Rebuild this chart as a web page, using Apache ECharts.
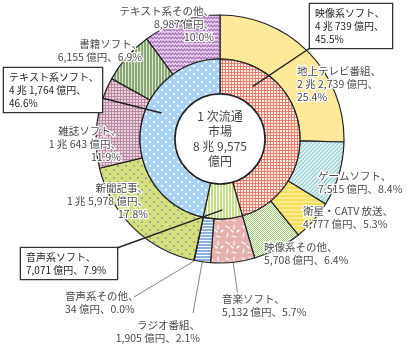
<!DOCTYPE html>
<html>
<head>
<meta charset="utf-8">
<script src="https://cdn.jsdelivr.net/npm/echarts@6/dist/echarts.min.js"></script>
<style>
html, body { margin: 0; padding: 0; background: #fff; }
#chart { width: 408px; height: 346px; }
</style>
</head>
<body>
<div id="chart"></div>
<script>
// 1次流通市場の構成(単位:億円)
const TOTAL = 89575;
const groupNames = ['映像系ソフト', '音声系ソフト', 'テキスト系ソフト'];
const groupValues = [40739, 7071, 41764];
const itemNames = ['地上テレビ番組', 'ゲームソフト', '衛星・CATV 放送', '映像系その他',
  '音楽ソフト', 'ラジオ番組', '音声系その他',
  '新聞記事', '雑誌ソフト', '書籍ソフト', 'テキスト系その他'];
const itemValues = [22739, 7515, 4777, 5708, 5132, 1905, 34, 15978, 10643, 6155, 8987];

const CX = 220, CY = 139;
const FONT = '"Noto Sans CJK JP", "Noto Sans", sans-serif';

// 億円 -> "X 兆 Y 億円"
function okuParts(v) {
  const cho = Math.floor(v / 10000);
  const rest = (v % 10000).toLocaleString('en-US');
  return [(cho ? cho + ' 兆 ' : '') + rest, '億円'];
}
function oku(v) { return okuParts(v).join(' '); }
function pct(v) { return (v / TOTAL * 100).toFixed(1) + '%'; }

// label placement (x/y = top anchor); boxed labels carry their own width
const LBL = {
  'テキスト系その他': { x: 214, y: 5, align: 'right', rows: 3 },
  '書籍ソフト': { x: 142, y: 38, align: 'right', rows: 2 },
  '雑誌ソフト': { x: 121, y: 125, align: 'right', rows: 3 },
  '新聞記事': { x: 148, y: 182, align: 'right', rows: 3 },
  '地上テレビ番組': { x: 297, y: 65, align: 'left', rows: 3 },
  'ゲームソフト': { x: 318, y: 170, align: 'left', rows: 2 },
  '衛星・CATV 放送': { x: 303, y: 205, align: 'left', rows: 2 },
  '映像系その他': { x: 264, y: 241, align: 'left', rows: 2 },
  '音楽ソフト': { x: 222, y: 293, align: 'left', rows: 2, from: [238, 296], r: 115 },
  'ラジオ番組': { x: 200, y: 319, align: 'right', rows: 2, from: [193, 313], r: 123 },
  '音声系その他': { x: 65, y: 290, align: 'left', rows: 2, from: [134, 297], r: 125 },
  '映像系ソフト': { x: 310, y: 4, align: 'left', rows: 3, w: 72, polar: [32, 62], corner: 'bl' },
  'テキスト系ソフト': { x: 4, y: 68, align: 'left', rows: 3, w: 88, polar: [294, 64], corner: 'r', ly: 98 },
  '音声系ソフト': { x: 21, y: 248, align: 'left', rows: 2, w: 86, polar: [178, 71], corner: 'tr' }
};
const BOX_PAD = [3, 5, 2, 5];
const BOX_LH = 13;

function labelText(name, v) {
  const c = LBL[name];
  return c.rows === 3
    ? name + '、\n' + oku(v) + '、\n' + pct(v)
    : name + '、\n' + oku(v) + '、' + pct(v);
}

function polarPt(deg, r) {
  const a = deg * Math.PI / 180;
  return [CX + r * Math.sin(a), CY - r * Math.cos(a)];
}

// mid angle of each slice, clockwise from 12 o'clock
function midAngles(values) {
  const sum = values.reduce((a, b) => a + b, 0);
  let acc = 0;
  return values.map(v => { const m = (acc + v / 2) / sum * 360; acc += v; return m; });
}
const itemMid = midAngles(itemValues);

// ---- fill patterns ----
function tile(w, h, draw) {
  const c = document.createElement('canvas');
  c.width = w; c.height = h;
  const g = c.getContext('2d');
  draw(g, w, h);
  return { image: c, repeat: 'repeat' };
}
function gridPat(bg, line, step) {
  return tile(step, step, g => {
    g.fillStyle = bg; g.fillRect(0, 0, step, step);
    g.fillStyle = line; g.fillRect(0, 0, step, 1); g.fillRect(0, 0, 1, step);
  });
}
function dotPat(bg, dot, step, r) {
  return tile(step, step, g => {
    g.fillStyle = bg; g.fillRect(0, 0, step, step);
    g.fillStyle = dot;
    [[step / 4, step / 4], [step * 3 / 4, step * 3 / 4]].forEach(p => {
      g.beginPath(); g.arc(p[0], p[1], r, 0, Math.PI * 2); g.fill();
    });
  });
}
function zigPat(bg, line, lw) {
  return tile(6, 4, g => {
    g.fillStyle = bg; g.fillRect(0, 0, 6, 4);
    g.strokeStyle = line; g.lineWidth = lw;
    g.beginPath(); g.moveTo(0, 3); g.lineTo(1.5, 1); g.lineTo(3, 3); g.lineTo(4.5, 1); g.lineTo(6, 3); g.stroke();
  });
}
function stripeV(a, b, wa, wb) {
  return tile(wa + wb, 2, g => {
    g.fillStyle = b; g.fillRect(0, 0, wa + wb, 2);
    g.fillStyle = a; g.fillRect(0, 0, wa, 2);
  });
}
function stripeH(a, b, ha, hb) {
  return tile(2, ha + hb, g => {
    g.fillStyle = b; g.fillRect(0, 0, 2, ha + hb);
    g.fillStyle = a; g.fillRect(0, 0, 2, ha);
  });
}
const diagPat = tile(4, 4, g => {
  g.fillStyle = '#a0d3d8'; g.fillRect(0, 0, 4, 4);
  g.strokeStyle = '#ffffff'; g.lineWidth = 1.1;
  g.beginPath();
  g.moveTo(-1, 5); g.lineTo(5, -1);
  g.moveTo(-1, 1); g.lineTo(1, -1);
  g.moveTo(3, 5); g.lineTo(5, 3);
  g.stroke();
});
const checkPat = tile(2, 2, g => {
  g.fillStyle = '#ffffff'; g.fillRect(0, 0, 2, 2);
  g.fillStyle = '#9fce77'; g.fillRect(0, 0, 1, 1); g.fillRect(1, 1, 1, 1);
});
const dashPat = tile(16, 16, g => {
  g.fillStyle = '#e5b2ad'; g.fillRect(0, 0, 16, 16);
  g.strokeStyle = '#ffffff'; g.lineWidth = 1.2; g.lineCap = 'round';
  [[2, 2, 5, 4], [10, 1, 10, 5], [13, 8, 15, 6], [4, 9, 3, 13], [8, 12, 12, 13], [7, 6, 9, 8]].forEach(s => {
    g.beginPath(); g.moveTo(s[0], s[1]); g.lineTo(s[2], s[3]); g.stroke();
  });
});

const groupFill = [
  gridPat('#fdeee9', '#e47d69', 3),
  stripeV('#ffffff', '#c3de86', 1, 2),
  dotPat('#a9d3f4', '#ffffff', 8, 1.1)
];
const itemFill = [
  '#fde99a',
  diagPat,
  zigPat('#f3de5c', '#fff6b8', 1),
  checkPat,
  dashPat,
  stripeH('#ffffff', '#8cb1e2', 1, 2),
  '#dddddd',
  dotPat('#d3e07c', '#9e9e9e', 8, 1.1),
  gridPat('#ecd2dd', '#b98aa3', 3),
  stripeV('#89a876', '#d9e3d0', 2, 1),
  zigPat('#ead5ef', '#a66fb8', 1.2)
];

function outerLayout(params) {
  const name = itemNames[params.dataIndex];
  const c = LBL[name];
  const out = { x: c.x, y: c.y, align: c.align, verticalAlign: 'top' };
  if (c.from) {
    const a = polarPt(itemMid[params.dataIndex], c.r);
    const e = c.from;
    out.labelLinePoints = [a, [(a[0] + e[0]) / 2, (a[1] + e[1]) / 2], e];
  }
  return out;
}
function innerLayout(params) {
  const c = LBL[groupNames[params.dataIndex]];
  return { x: c.x, y: c.y, align: c.align, verticalAlign: 'top' };
}

// leader lines from the boxed group labels into the inner ring
function boxLeaders() {
  return groupNames.map(n => {
    const c = LBL[n];
    const bw = c.w + BOX_PAD[1] + BOX_PAD[3];
    const bh = c.rows * BOX_LH + BOX_PAD[0] + BOX_PAD[2];
    let e;
    if (c.corner === 'bl') e = [c.x, c.y + bh];
    else if (c.corner === 'tr') e = [c.x + bw, c.y];
    else e = [c.x + bw, c.ly];
    const a = polarPt(c.polar[0], c.polar[1]);
    return {
      type: 'polyline', silent: true, z: 100,
      shape: { points: [a, e] },
      style: { stroke: '#222', lineWidth: 1.4, fill: null }
    };
  });
}

const outerData = itemNames.map((n, i) => ({
  name: n, value: itemValues[i],
  itemStyle: { color: itemFill[i] },
  labelLine: { show: !!LBL[n].from }
}));
const innerData = groupNames.map((n, i) => ({
  name: n, value: groupValues[i],
  itemStyle: { color: groupFill[i] },
  label: { width: LBL[n].w, overflow: 'none' }
}));

const chart = echarts.init(document.getElementById('chart'), null, { renderer: 'canvas' });
chart.setOption({
  animation: false,
  backgroundColor: '#ffffff',
  graphic: boxLeaders(),
  series: [
    {
      type: 'pie',
      center: [CX, CY],
      radius: [80, 124],
      startAngle: 90,
      clockwise: true,
      avoidLabelOverlap: false,
      emphasis: { disabled: true },
      silent: true,
      itemStyle: { borderColor: '#222', borderWidth: 1.2 },
      label: {
        show: true, position: 'outside',
        formatter: p => labelText(p.name, p.value),
        fontFamily: FONT, fontSize: 10.5, lineHeight: 13,
        color: '#4a4a4a', textBorderColor: '#ffffff', textBorderWidth: 2.5
      },
      labelLine: { show: true, length: 5, length2: 5, lineStyle: { color: '#666', width: 0.8 } },
      labelLayout: outerLayout,
      data: outerData
    },
    {
      type: 'pie',
      center: [CX, CY],
      radius: [45, 80],
      startAngle: 90,
      clockwise: true,
      avoidLabelOverlap: false,
      emphasis: { disabled: true },
      silent: true,
      z: 3,
      itemStyle: { borderColor: '#222', borderWidth: 1.2 },
      label: {
        show: true, position: 'outside',
        formatter: p => labelText(p.name, p.value),
        fontFamily: FONT, fontSize: 10, lineHeight: BOX_LH,
        color: '#222', backgroundColor: '#ffffff',
        borderColor: '#333', borderWidth: 1.3, padding: BOX_PAD
      },
      labelLine: { show: false },
      labelLayout: innerLayout,
      data: innerData
    },
    {
      type: 'pie',
      center: [CX, CY],
      radius: [0, 45],
      emphasis: { disabled: true },
      silent: true,
      z: 4,
      itemStyle: { color: '#ffffff', borderColor: '#222', borderWidth: 1.5 },
      label: {
        show: true, position: 'center',
        formatter: () => '1 次流通\n市場\n' + okuParts(TOTAL).join('\n'),
        fontFamily: FONT, fontSize: 12, lineHeight: 15, color: '#444'
      },
      labelLine: { show: false },
      data: [{ name: '1次流通市場', value: TOTAL }]
    }
  ]
});
</script>
</body>
</html>
